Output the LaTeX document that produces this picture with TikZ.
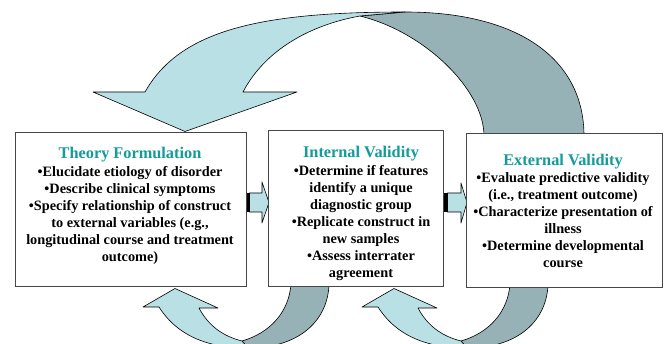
\documentclass[tikz,border=0pt]{standalone}
\usepackage{fontspec}
\setmainfont{Liberation Serif}
\definecolor{lightarr}{RGB}{185,224,228}
\definecolor{grayarr}{RGB}{151,178,182}
\definecolor{headteal}{RGB}{20,155,155}
\definecolor{boxline}{RGB}{70,70,70}
\begin{document}
\begin{tikzpicture}[x=1pt,y=-1pt,
  lightface/.style={fill=lightarr,draw=black,line width=0.6pt,line join=round},
  grayface/.style={fill=grayarr,draw=black,line width=0.6pt,line join=round},
  boxstyle/.style={draw=boxline,fill=white,line width=0.8pt},
  txt/.style={align=center,inner sep=0pt,anchor=north,font=\bfseries\fontsize{14.3}{17}\selectfont},
  hd/.style={}]
\useasboundingbox (0,0) rectangle (668,344);
% top curved arrow (back face)
\draw[grayface] (360,16) -- (405,12) .. controls (520,12) and (584,60) .. (584,136)
  -- (484,136) .. controls (484,90) and (425,32) .. (360,16) -- cycle;
% top curved arrow (front face)
\draw[lightface] (145,92) .. controls (180,30) and (260,12) .. (405,12) -- (360,16)
  .. controls (310,25) and (265,50) .. (243,92) -- (297,92) -- (185,131.5) -- (93,92) -- cycle;
% bottom arrows
\foreach \dx in {0,219}{
  \begin{scope}[xshift=\dx]
  \draw[grayface] (242,341) .. controls (270,333) and (289,312) .. (291,284) -- (329,284)
    .. controls (328,320) and (300,348) .. (248,348) -- cycle;
  \draw[lightface] (175,288.5) -- (218,308) -- (199,308) .. controls (208,325) and (222,336) .. (242,341)
    -- (248,348) .. controls (215,348) and (180,340) .. (159,307) -- (143,307) -- cycle;
  \end{scope}
}
% small right arrows
\fill[black] (245,193) rectangle (249.5,212);
\draw[lightface] (249.5,193) -- (262,193) -- (262,182) -- (269,202.5) -- (262,223) -- (262,212) -- (249.5,212) -- cycle;
\fill[black] (443,193) rectangle (447.5,212);
\draw[lightface] (447.5,193) -- (461,193) -- (461,183) -- (467,202.5) -- (461,223) -- (461,212) -- (447.5,212) -- cycle;
% boxes
\draw[boxstyle] (15,132) rectangle (246,286);
\coordinate (b1) at (130.5,209);
\draw[boxstyle] (268,130) rectangle (443,286);
\coordinate (b2) at (355.5,208);
\draw[boxstyle] (466,133) rectangle (662,287);
\coordinate (b3) at (564,210);
% texts
\node[txt] (t1) at (130,147) {{\color{headteal}\fontsize{16.3}{19}\selectfont Theory Formulation}\\[1pt]
•Elucidate etiology of disorder\\
•Describe clinical symptoms\\
•Specify relationship of construct\\
to external variables (e.g.,\\
longitudinal course and treatment\\
outcome)};
\node[txt] (t2) at (361,146) {{\color{headteal}\fontsize{16.3}{19}\selectfont Internal Validity}\\[1pt]
•Determine if features\\
identify a unique\\
diagnostic group\\
•Replicate construct in\\
new samples\\
•Assess interrater\\
agreement};
\node[txt] (t3) at (563,154) {{\color{headteal}\fontsize{16.3}{19}\selectfont External Validity}\\[0pt]
•Evaluate predictive validity\\
(i.e., treatment outcome)\\
•Characterize presentation of\\
illness\\
•Determine developmental\\
course};
\end{tikzpicture}
\end{document}
